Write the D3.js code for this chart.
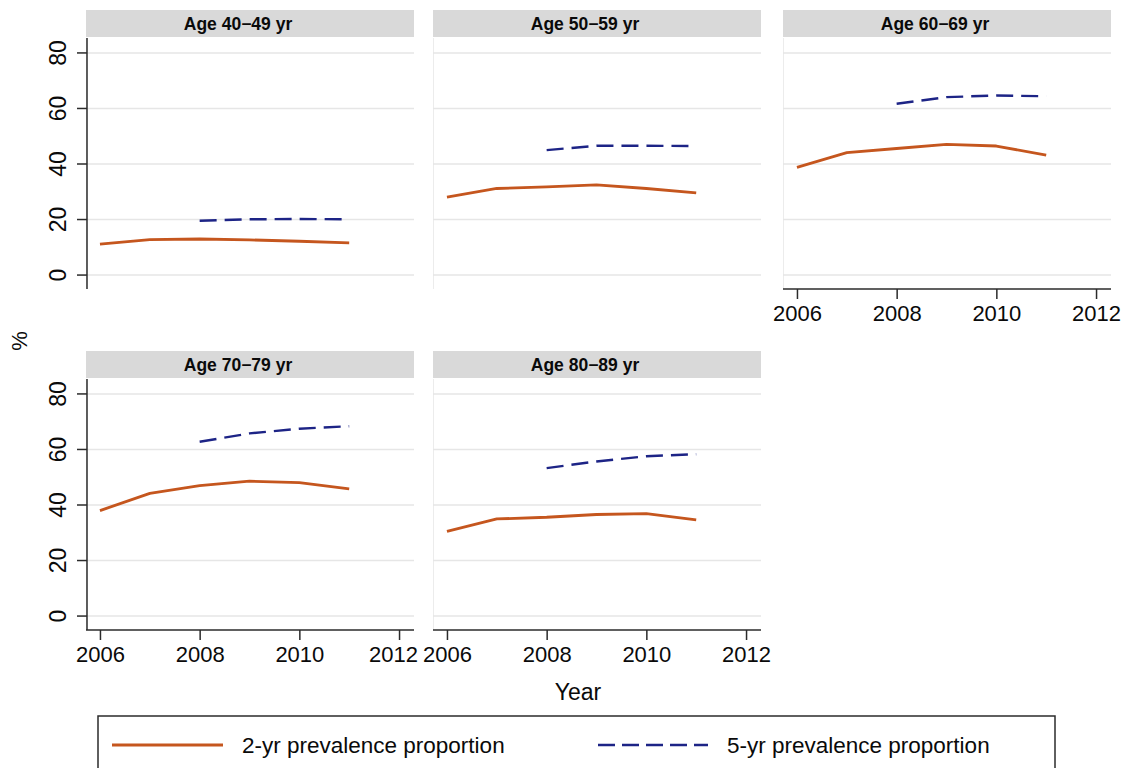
<!DOCTYPE html>
<html>
<head>
<meta charset="utf-8">
<script src="https://cdn.jsdelivr.net/npm/d3@7"></script>
<style>
  html, body { margin: 0; padding: 0; background: #fff; }
  svg { display: block; font-family: "Liberation Sans", Arial, Helvetica, sans-serif; }
</style>
</head>
<body>
<svg id="chart" width="1128" height="768"></svg>
<script>
// Prevalence proportions (%) by age group, 2006–2011
const years = [2006, 2007, 2008, 2009, 2010, 2011];
const groups = ["Age 40\u221249 yr", "Age 50\u221259 yr", "Age 60\u221269 yr", "Age 70\u221279 yr", "Age 80\u221289 yr"];

// 2-yr prevalence proportion, one row per age group (2006–2011)
const prev2yr = [
  [11.0, 12.6, 12.8, 12.5, 12.0, 11.4],
  [27.9, 31.0, 31.6, 32.3, 31.0, 29.4],
  [38.6, 43.9, 45.4, 46.9, 46.3, 43.0],
  [37.8, 44.0, 46.8, 48.4, 47.9, 45.6],
  [30.3, 34.8, 35.4, 36.4, 36.7, 34.5]
];
// 5-yr prevalence proportion, available from 2008 on
const years5 = [2008, 2009, 2010, 2011];
const prev5yr = [
  [19.4, 19.9, 20.0, 19.9],
  [44.8, 46.4, 46.4, 46.3],
  [61.5, 63.9, 64.5, 64.2],
  [62.6, 65.6, 67.3, 68.2],
  [53.1, 55.5, 57.4, 58.1]
];

const yTicks = [0, 20, 40, 60, 80];
const xTicks = [2006, 2008, 2010, 2012];
const seriesNames = ["2-yr prevalence proportion", "5-yr prevalence proportion"];

const ORANGE = "#c5561e";
const BLUE = "#1d2486";
const GRID = "#e6e6e6";
const AXIS = "#2b2b2b";
const INK = "#0a0a0a";

const svg = d3.select("#chart");

// panel geometry
const panelW = 328, headerH = 27, plotH = 251;
const colX = [86, 433, 783];
const rowY = [10, 351];

const x = d3.scaleLinear().domain([2005.72, 2012.3]).range([0, panelW]);
const y = d3.scaleLinear().domain([-5.2, 85.2]).range([plotH, 0]);

const line2 = d3.line().x((d, i) => x(years[i])).y(d => y(d));
const line5 = d3.line().x((d, i) => x(years5[i])).y(d => y(d));

const layout = [
  { col: 0, row: 0, yAxis: true,  xAxis: false },
  { col: 1, row: 0, yAxis: false, xAxis: false },
  { col: 2, row: 0, yAxis: false, xAxis: true },
  { col: 0, row: 1, yAxis: true,  xAxis: true },
  { col: 1, row: 1, yAxis: false, xAxis: true }
];

groups.forEach((name, gi) => {
  const L = layout[gi];
  const g = svg.append("g").attr("transform", `translate(${colX[L.col]},${rowY[L.row]})`);

  // strip header
  g.append("rect").attr("x", 0).attr("y", 0).attr("width", panelW).attr("height", headerH)
    .attr("fill", "#d9d9d9");
  g.append("text").attr("x", panelW / 2 - 12).attr("y", 20)
    .attr("text-anchor", "middle").attr("font-weight", "bold").attr("font-size", 17.5)
    .attr("fill", INK).text(name);

  const p = g.append("g").attr("transform", `translate(0,${headerH + 1})`);

  // faint plot-region edge
  p.append("line").attr("x1", 0.5).attr("x2", 0.5).attr("y1", 0).attr("y2", plotH)
    .attr("stroke", "#ececec").attr("stroke-width", 1);

  // horizontal gridlines
  const grid = p.append("g")
    .call(d3.axisLeft(y).tickValues(yTicks).tickSize(-panelW).tickFormat(""));
  grid.select(".domain").remove();
  grid.selectAll(".tick line").attr("stroke", GRID).attr("stroke-width", 1.6);

  // series
  p.append("path").datum(prev2yr[gi]).attr("d", line2)
    .attr("fill", "none").attr("stroke", ORANGE).attr("stroke-width", 2.8)
    .attr("stroke-linejoin", "round");
  p.append("path").datum(prev5yr[gi]).attr("d", line5)
    .attr("fill", "none").attr("stroke", BLUE).attr("stroke-width", 2.4)
    .attr("stroke-dasharray", "17,8");

  if (L.yAxis) {
    const ya = p.append("g").attr("transform", "translate(1,0)")
      .call(d3.axisLeft(y).tickValues(yTicks).tickSize(10).tickPadding(12));
    ya.select(".domain").attr("stroke", AXIS).attr("stroke-width", 1.5)
      .attr("d", `M0,0V${plotH}`);
    ya.selectAll(".tick line").attr("stroke", AXIS).attr("stroke-width", 1.5);
    ya.selectAll(".tick text")
      .attr("font-size", 23).attr("fill", INK)
      .attr("text-anchor", "middle")
      .attr("x", null).attr("dy", null)
      .attr("transform", "translate(-21,0) rotate(-90)");
  }

  if (L.xAxis) {
    const xa = p.append("g").attr("transform", `translate(0,${plotH})`)
      .call(d3.axisBottom(x).tickValues(xTicks).tickFormat(d3.format("d")).tickSize(10).tickPadding(6));
    xa.select(".domain").attr("stroke", AXIS).attr("stroke-width", 1.5)
      .attr("d", `M0,0H${panelW}`);
    xa.selectAll(".tick line").attr("stroke", AXIS).attr("stroke-width", 1.5);
    xa.selectAll(".tick text").attr("font-size", 22).attr("fill", INK);
    // keep the last label clear of the neighbouring panel's first label
    if (L.col === 0) {
      xa.selectAll(".tick text").filter(d => d === xTicks[xTicks.length - 1]).attr("dx", -6);
    }
  }
});

// axis titles
svg.append("text").attr("transform", "translate(27,341) rotate(-90)")
  .attr("text-anchor", "middle").attr("font-size", 22).attr("fill", INK).text("%");
svg.append("text").attr("x", 578).attr("y", 700)
  .attr("text-anchor", "middle").attr("font-size", 23).attr("fill", INK).text("Year");

// legend
const lg = svg.append("g");
lg.append("rect").attr("x", 98).attr("y", 716).attr("width", 957).attr("height", 80)
  .attr("fill", "#fff").attr("stroke", AXIS).attr("stroke-width", 1.5);
const legendItems = [
  { x1: 112, x2: 223, tx: 242, color: ORANGE, dash: null, w: 3 },
  { x1: 598, x2: 708, tx: 727, color: BLUE, dash: "17,7", w: 2.6 }
];
legendItems.forEach((it, i) => {
  lg.append("line").attr("x1", it.x1).attr("x2", it.x2).attr("y1", 745).attr("y2", 745)
    .attr("stroke", it.color).attr("stroke-width", it.w)
    .attr("stroke-dasharray", it.dash);
  lg.append("text").attr("x", it.tx).attr("y", 753)
    .attr("font-size", 22.5).attr("fill", INK).text(seriesNames[i]);
});
</script>
</body>
</html>
